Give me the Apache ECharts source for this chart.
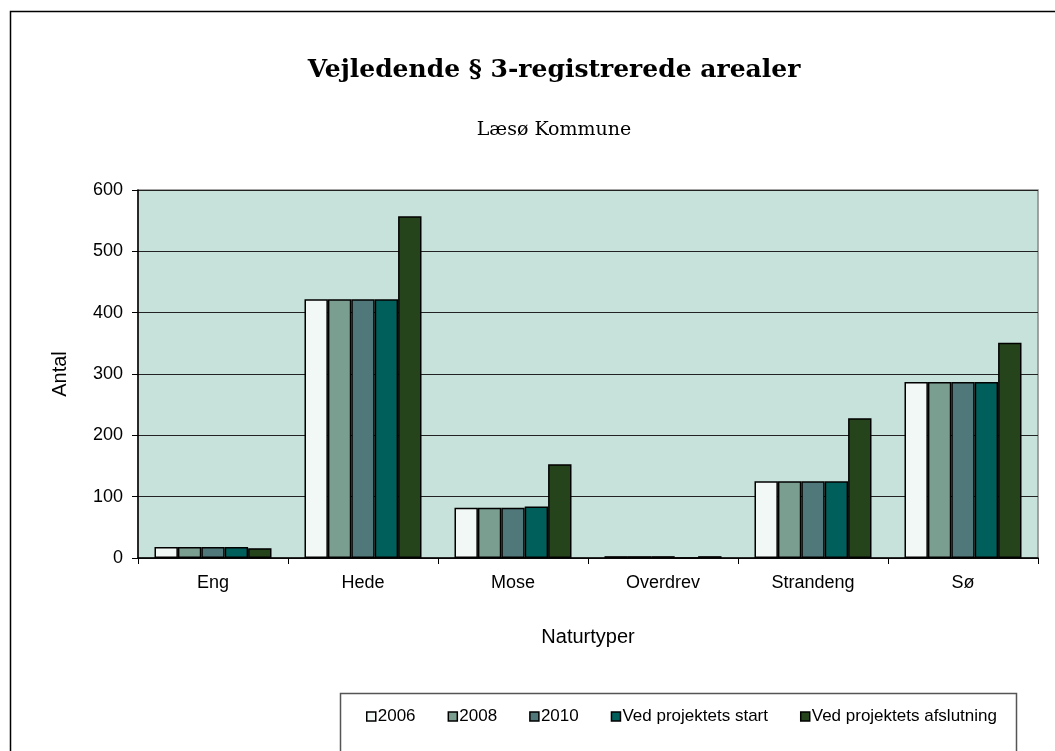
<!DOCTYPE html>
<html>
<head>
<meta charset="utf-8">
<script src="https://cdn.jsdelivr.net/npm/echarts@6/dist/echarts.min.js"></script>
<style>html,body{margin:0;padding:0;background:#fff}#c{width:1055px;height:751px}</style>
</head>
<body>
<div id="c"></div>
<script>
const categories = ['Eng', 'Hede', 'Mose', 'Overdrev', 'Strandeng', 'Sø'];
const seriesNames = ['2006', '2008', '2010', 'Ved projektets start', 'Ved projektets afslutning'];
const v2006 = [18, 422, 82, 3, 125, 287];
const v2008 = [18, 422, 82, 3, 125, 287];
const v2010 = [18, 422, 82, 3, 125, 287];
const vStart = [18, 422, 84, 0, 125, 287];
const vSlut = [16, 557, 153, 3, 228, 351];
const yTicks = [0, 100, 200, 300, 400, 500, 600];
const colors = ['#f2f8f6', '#7a9e90', '#50777a', '#005f5a', '#26441c'];
const values = [v2006, v2008, v2010, vStart, vSlut];

const chart = echarts.init(document.getElementById('c'), null, {renderer: 'canvas'});
chart.setOption({
  animation: false,
  backgroundColor: '#fff',
  title: [
    {text: 'Vejledende § 3-registrerede arealer', left: 549, top: 53, textAlign: 'center',
     textStyle: {fontFamily: 'DejaVu Serif', fontWeight: 'bold', fontSize: 25, color: '#000'}},
    {text: 'Læsø Kommune', left: 549, top: 116, textAlign: 'center',
     textStyle: {fontFamily: 'DejaVu Serif', fontWeight: 'normal', fontSize: 19, color: '#000'}}
  ],
  graphic: [
    {type: 'rect', shape: {x: 10.5, y: 11.5, width: 1200, height: 900}, style: {fill: 'none', stroke: '#000', lineWidth: 1.5}, z: 100},
    {type: 'rect', shape: {x: 340.5, y: 693.5, width: 676, height: 100}, style: {fill: 'none', stroke: '#555', lineWidth: 1.5}, z: 100}
  ],
  legend: {
    left: 361, top: 703, itemWidth: 9, itemHeight: 9, itemGap: 32,
    icon: 'rect',
    textStyle: {fontFamily: 'Liberation Sans', fontSize: 17, color: '#000', padding: [0, 0, 0, -3]},
    itemStyle: {borderColor: '#000', borderWidth: 1.5},
    data: seriesNames
  },
  grid: {left: 138, top: 190, width: 900, height: 368, show: true, backgroundColor: '#c7e2da', borderColor: '#888', borderWidth: 1.5},
  xAxis: {
    type: 'category', data: categories,
    name: 'Naturtyper', nameLocation: 'middle', nameGap: 69,
    nameTextStyle: {fontFamily: 'Liberation Sans', fontSize: 20, color: '#000'},
    axisLine: {lineStyle: {color: '#000', width: 1.5}},
    axisTick: {show: true, alignWithLabel: false, length: 6, lineStyle: {color: '#000'}},
    axisLabel: {fontFamily: 'Liberation Sans', fontSize: 18, color: '#000', margin: 16}
  },
  yAxis: {
    type: 'value', min: 0, max: 600, interval: 100,
    name: 'Antal', nameLocation: 'middle', nameGap: 68, nameRotate: 90,
    nameTextStyle: {fontFamily: 'Liberation Sans', fontSize: 20, color: '#000'},
    axisLine: {show: true, lineStyle: {color: '#000', width: 1.5}},
    axisTick: {show: true, length: 6, lineStyle: {color: '#000'}},
    axisLabel: {fontFamily: 'Liberation Sans', fontSize: 18, color: '#000', margin: 15,
      formatter: v => yTicks.includes(v) ? String(v) : ''},
    splitLine: {show: true, lineStyle: {color: '#222', width: 1.2}}
  },
  series: seriesNames.map((n, i) => ({
    name: n, type: 'bar', data: values[i],
    barGap: '0%', barCategoryGap: '22%',
    itemStyle: {color: colors[i], borderColor: '#000', borderWidth: 1.5}
  }))
});
</script>
</body>
</html>
